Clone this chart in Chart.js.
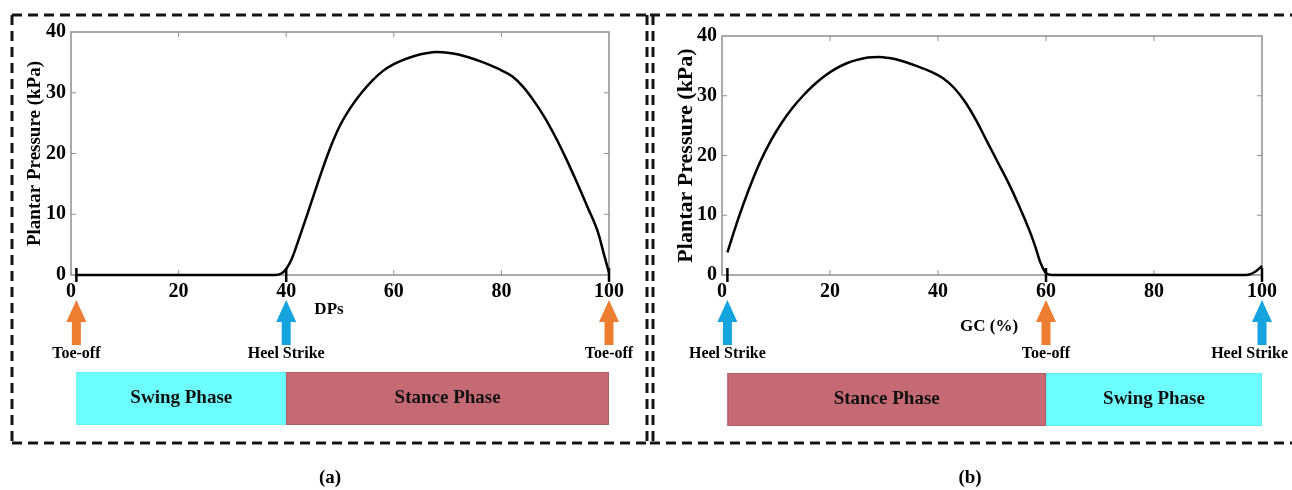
<!DOCTYPE html>
<html><head><meta charset="utf-8">
<script src="https://cdn.jsdelivr.net/npm/chart.js@4/dist/chart.umd.min.js"></script>
<style>
html,body{margin:0;padding:0;background:#fff;width:1292px;height:490px;overflow:hidden}
#wa{position:absolute;left:0;top:0;width:650px;height:490px}
#wb{position:absolute;left:650px;top:0;width:642px;height:490px}
</style></head><body>
<div id="wa"><canvas id="ca"></canvas></div>
<div id="wb"><canvas id="cb"></canvas></div>
<script>
// ---- data ----
const xA = [1,5,10,15,20,25,30,35,38,39,40,41,42,43,44,46,48,50,52,54,56,58,60,62,64,66,68,70,72,74,76,78,80,82,84,86,88,90,92,94,96,98,99,100];
const yA = [0,0,0,0,0,0,0,0,0,0.2,1.0,2.6,5.0,7.6,10.2,15.5,20.5,24.6,27.6,30,32,33.6,34.7,35.5,36.1,36.5,36.7,36.6,36.3,35.8,35.2,34.5,33.7,32.7,31.0,28.7,26.0,22.8,19.2,15.3,11.2,6.9,3.6,0.4];
const xB = [1,3,5,7,9,11,13,15,17,19,21,23,25,27,29,31,33,36,39,41,43,45,47,49,51,53,55,57,58,59,60,61,65,70,75,80,85,90,95,97,98,99,100];
const yB = [3.8,9.4,14.4,18.8,22.4,25.4,27.9,30.0,31.8,33.3,34.5,35.4,36.0,36.4,36.5,36.3,35.9,35.0,33.9,32.9,31.3,29.0,26.0,22.5,19.0,15.5,11.6,7.3,4.8,2.0,0.3,0,0,0,0,0,0,0,0,0,0.2,0.7,1.5];
const xTicks = [0,20,40,60,80,100];
const yTicks = [0,10,20,30,40];
const eventXA = [1,40,100];
const eventNamesA = ['Toe-off','Heel Strike','Toe-off'];
const eventXB = [1,60,100];
const eventNamesB = ['Heel Strike','Toe-off','Heel Strike'];
const phaseFromA = [1,40], phaseToA = [40,100], phaseNamesA = ['Swing Phase','Stance Phase'];
const phaseFromB = [1,60], phaseToB = [60,100], phaseNamesB = ['Stance Phase','Swing Phase'];
const markerY = 0;

// ---- styling ----
const SERIF = '"Liberation Serif","Times New Roman",serif';
const eventColor = {'Toe-off':'#ED7D31','Heel Strike':'#16A4DE'};
const phaseColor = {'Swing Phase':'#6CFEFE','Stance Phase':'#C56A74'};
const phaseEdge = {'Swing Phase':'#63F0F0','Stance Phase':'#B25C66'};

function drawArrow(ctx, x, tip, color){
  const headH=22, headW=10, shaftW=4.5, len=45;
  ctx.fillStyle=color;
  ctx.beginPath();
  ctx.moveTo(x, tip);
  ctx.lineTo(x+headW, tip+headH);
  ctx.lineTo(x+shaftW, tip+headH);
  ctx.lineTo(x+shaftW, tip+len);
  ctx.lineTo(x-shaftW, tip+len);
  ctx.lineTo(x-shaftW, tip+headH);
  ctx.lineTo(x-headW, tip+headH);
  ctx.closePath(); ctx.fill();
}

function makeChart(id, xs, ys, evX, evN, pF, pT, pN, cfg){
  const pts = xs.map((x,i)=>({x:x, y:ys[i]}));
  const marks = evX.map(x=>({x:x, y:markerY}));
  const deco = {
    id:'deco'+id,
    beforeDatasetsDraw(chart){
      const ctx=chart.ctx, ca=chart.chartArea, sx=chart.scales.x, sy=chart.scales.y;
      ctx.save();
      ctx.strokeStyle='#8f8f8f'; ctx.lineWidth=1.5;
      ctx.strokeRect(ca.left, ca.top, ca.right-ca.left, ca.bottom-ca.top);
      ctx.lineWidth=1;
      sx.ticks.forEach(t=>{
        if (t.value<=sx.min || t.value>=sx.max) return;
        const p=sx.getPixelForValue(t.value);
        ctx.beginPath(); ctx.moveTo(p,ca.bottom); ctx.lineTo(p,ca.bottom-5);
        ctx.moveTo(p,ca.top); ctx.lineTo(p,ca.top+5); ctx.stroke();
      });
      sy.ticks.forEach(t=>{
        if (t.value<=sy.min || t.value>=sy.max) return;
        const p=sy.getPixelForValue(t.value);
        ctx.beginPath(); ctx.moveTo(ca.left,p); ctx.lineTo(ca.left+5,p);
        ctx.moveTo(ca.right,p); ctx.lineTo(ca.right-5,p); ctx.stroke();
      });
      ctx.restore();
    },
    afterDraw(chart){
      const ctx=chart.ctx, sx=chart.scales.x;
      ctx.save();
      // x-axis title
      ctx.fillStyle='#000'; ctx.textAlign='center'; ctx.textBaseline='middle';
      ctx.font='bold 17px '+SERIF;
      ctx.fillText(cfg.xTitle, cfg.xTitleX, cfg.xTitleY);
      // event arrows + labels
      evX.forEach((v,i)=>{
        const p=sx.getPixelForValue(v);
        drawArrow(ctx, p, 300, eventColor[evN[i]]);
        ctx.fillStyle='#000'; ctx.font='bold 16px '+SERIF;
        const w=ctx.measureText(evN[i]).width;
        let cx=p;
        if (cx + w/2 > chart.width - 4) cx = chart.width - 4 - w/2;
        ctx.fillText(evN[i], cx, 354);
      });
      // phase bars
      pF.forEach((f,i)=>{
        const a=sx.getPixelForValue(f), b=sx.getPixelForValue(pT[i]);
        ctx.fillStyle=phaseColor[pN[i]];
        ctx.fillRect(a, cfg.barTop, b-a, cfg.barH);
        ctx.strokeStyle=phaseEdge[pN[i]]; ctx.lineWidth=1;
        ctx.strokeRect(a+0.5, cfg.barTop+0.5, b-a-1, cfg.barH-1);
        ctx.fillStyle='#111'; ctx.font='bold 19px '+SERIF;
        ctx.fillText(pN[i], (a+b)/2, cfg.barTop+cfg.barH/2);
      });
      // dashed panel frame
      ctx.strokeStyle='#151515'; ctx.lineWidth=3; ctx.setLineDash([10,6]);
      ctx.beginPath();
      cfg.frame.forEach(s=>{ ctx.moveTo(s[0],s[1]); ctx.lineTo(s[2],s[3]); });
      ctx.stroke();
      ctx.setLineDash([]);
      // panel letter
      ctx.fillStyle='#000'; ctx.font='bold 19px '+SERIF;
      ctx.fillText(cfg.letter, cfg.letterX, 478);
      ctx.restore();
    }
  };
  return new Chart(document.getElementById(id), {
    type:'line',
    data:{datasets:[
      {data:pts, borderColor:'#000', borderWidth:2.5, pointRadius:0, cubicInterpolationMode:'monotone', clip:false},
      {data:marks, showLine:false, pointStyle:'line', rotation:90, pointRadius:7, borderColor:'#000', borderWidth:2.5, clip:false}
    ]},
    options:{
      responsive:true, maintainAspectRatio:false, animation:false,
      layout:{padding:{left:cfg.padLeft, right:cfg.padRight, top:cfg.padTop, bottom:185}},
      plugins:{legend:{display:false}, tooltip:{enabled:false}},
      scales:{
        x:{type:'linear', min:0, max:100,
           afterBuildTicks(s){ s.ticks = xTicks.map(v=>({value:v})); },
           afterFit(s){ s.height=30; },
           grid:{display:false, drawTicks:false, tickLength:0},
           border:{display:false},
           ticks:{color:'#000', padding:5, font:{family:SERIF, size:20, weight:'bold'}, maxRotation:0}},
        y:{type:'linear', min:0, max:40,
           afterBuildTicks(s){ s.ticks = yTicks.map(v=>({value:v})); },
           afterFit(s){ s.width=cfg.yWidth; },
           grid:{display:false, drawTicks:false, tickLength:0},
           border:{display:false},
           title:{display:true, text:'Plantar Pressure (kPa)', color:'#000', padding:0,
                  font:{family:SERIF, size:cfg.titleSize, weight:'bold'}},
           ticks:{color:'#000', padding:5, font:{family:SERIF, size:20, weight:'bold'}}}
      }
    },
    plugins:[deco]
  });
}

makeChart('ca', xA, yA, eventXA, eventNamesA, phaseFromA, phaseToA, phaseNamesA, {
  padLeft:24, yWidth:47, padRight:41, padTop:32, titleSize:19,
  xTitle:'DPs', xTitleX:329, xTitleY:310, barTop:372, barH:53,
  frame:[[12,15,650,15],[12,15,12,443],[12,443,650,443],[647,15,647,443]],
  letter:'(a)', letterX:330
});
makeChart('cb', xB, yB, eventXB, eventNamesB, phaseFromB, phaseToB, phaseNamesB, {
  padLeft:23, yWidth:49, padRight:30, padTop:36, titleSize:22,
  xTitle:'GC (%)', xTitleX:339, xTitleY:327, barTop:373, barH:53,
  frame:[[0,15,642,15],[3,15,3,443],[0,443,642,443]],
  letter:'(b)', letterX:320
});
</script>
</body></html>
